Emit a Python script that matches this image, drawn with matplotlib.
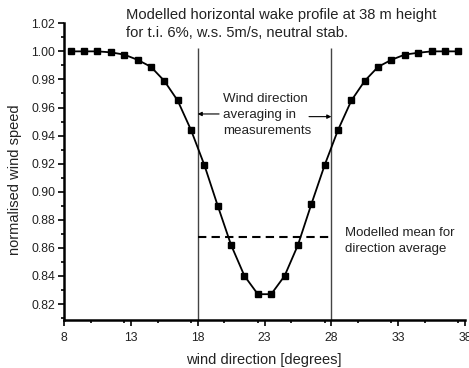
import matplotlib
matplotlib.use("Agg")
import matplotlib.pyplot as plt
from matplotlib.ticker import MultipleLocator, FixedLocator

# modelled wake profile, one point per degree of wind direction
direction = [8.5, 9.5, 10.5, 11.5, 12.5, 13.5, 14.5, 15.5, 16.5, 17.5,
             18.5, 19.5, 20.5, 21.5, 22.5, 23.5, 24.5, 25.5, 26.5, 27.5,
             28.5, 29.5, 30.5, 31.5, 32.5, 33.5, 34.5, 35.5, 36.5, 37.5]
speed = [1.000, 1.000, 1.000, 0.9993, 0.9977, 0.994, 0.989, 0.979, 0.965, 0.944,
         0.919, 0.890, 0.862, 0.840, 0.827, 0.827, 0.840, 0.862, 0.891, 0.919,
         0.944, 0.965, 0.979, 0.989, 0.994, 0.9977, 0.999, 1.000, 1.000, 1.000]

avg_sector = [18, 28]        # wind direction averaging window
mean_speed = 0.868           # modelled mean over that window
x_ticks = [8, 13, 18, 23, 28, 33, 38]

plt.rcParams["font.family"] = ["Liberation Sans", "DejaVu Sans"]
ink = "#222222"

fig = plt.figure(figsize=(4.69, 3.68), dpi=100)
ax = fig.add_axes([0.1365, 0.1304, 0.855, 0.8063])

ax.plot(direction, speed, "-", color="black", lw=1.3,
        marker="s", ms=4.8, mec="black", mfc="black", zorder=3)

ax.vlines(avg_sector, 0.8086, 1.0025, color="#444444", lw=1.0, zorder=2)
ax.hlines(mean_speed, avg_sector[0], avg_sector[1], color="black",
          lw=1.5, linestyles=(0, (4, 2.5)), zorder=2)

ax.set_xlim(8, 38)
ax.set_ylim(0.8086, 1.02)
ax.xaxis.set_major_locator(FixedLocator(x_ticks))
ax.xaxis.set_minor_locator(MultipleLocator(2.5))
ax.yaxis.set_major_locator(MultipleLocator(0.02))
ax.yaxis.set_minor_locator(MultipleLocator(0.01))
ax.yaxis.set_major_formatter(lambda v, p: f"{v:.2f}")

for side in ("top", "right"):
    ax.spines[side].set_visible(False)
for side in ("left", "bottom"):
    ax.spines[side].set_linewidth(1.8)

ax.tick_params(which="major", direction="out", length=4.3, width=1.2,
               labelsize=8.8, labelcolor=ink)
ax.tick_params(which="minor", direction="out", length=2.5, width=1.2)
ax.tick_params(axis="x", which="major", pad=4)
ax.tick_params(axis="y", which="major", pad=2)

ax.set_xlabel("wind direction [degrees]", fontsize=10.5, color=ink)
ax.set_ylabel("normalised wind speed", fontsize=10.5, color=ink)
ax.xaxis.set_label_coords(0.497, -0.11)
ax.yaxis.set_label_coords(-0.122, 0.472)
ax.yaxis.label.set_va("center")

fig.text(126 / 469, 1 - 24 / 368,
         "Modelled horizontal wake profile at 38 m height\n"
         "for t.i. 6%, w.s. 5m/s, neutral stab.",
         fontsize=10.6, color=ink, ha="left", va="center", linespacing=1.32)

ax.text(19.9, 0.9547, "Wind direction\naveraging in\nmeasurements",
        fontsize=9.6, color=ink, ha="left", va="center", linespacing=1.42)
ax.annotate("", xy=(18.0, 0.9554), xytext=(19.6, 0.9554),
            arrowprops=dict(arrowstyle="-|>", color="black", lw=0.8,
                            mutation_scale=6, shrinkA=0, shrinkB=0))
ax.annotate("", xy=(28.0, 0.9535), xytext=(26.33, 0.9535),
            arrowprops=dict(arrowstyle="-|>", color="black", lw=0.8,
                            mutation_scale=6, shrinkA=0, shrinkB=0))

ax.text(29.05, 0.865, "Modelled mean for\ndirection average",
        fontsize=9.5, color=ink, ha="left", va="center", linespacing=1.4)

fig.savefig("out.png", dpi=100)
